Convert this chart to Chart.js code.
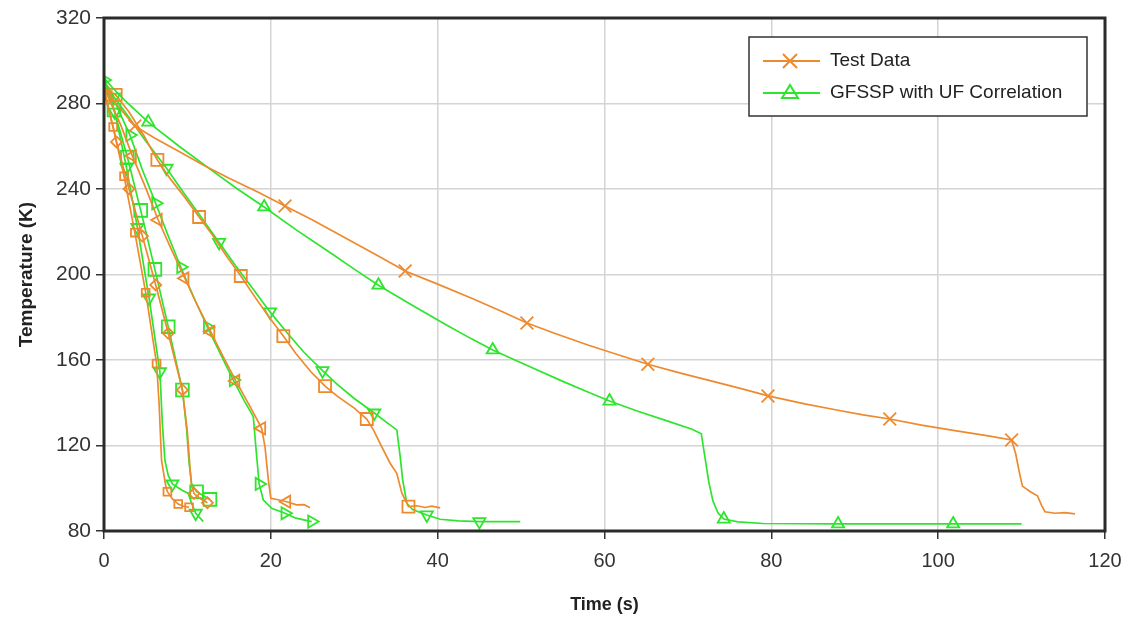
<!DOCTYPE html>
<html>
<head>
<meta charset="utf-8">
<script src="https://cdn.jsdelivr.net/npm/chart.js@4.4.1/dist/chart.umd.min.js"></script>
<style>
html, body { margin: 0; padding: 0; background: #fff; }
canvas { display: block; }
</style>
</head>
<body>
<canvas id="chart" width="1127" height="619"></canvas>
<script>
// time (s), temperature (K)
const test1 = [[0,288],[1.2,281],[2.5,275],[3.7,269.5],[6,264],[9,257.5],[12,251],[15,245],[18.5,238.5],[21.7,232],[25,225.5],[29,217],[32.5,209.5],[36.1,201.6],[40,195.5],[44,189],[47.5,183],[50.7,177.3],[54,172.5],[58,167],[62,162],[65.2,158],[69,154],[73,150],[76.5,146.5],[79.6,143.2],[84,139.5],[88,136.5],[91,134.3],[94.2,132.4],[98,129.5],[102,127],[106,124.5],[108.8,122.6],[109.3,116],[109.7,108],[110.1,101],[111,98.5],[111.9,96.5],[112.4,92],[112.8,89],[114,88.3],[115.2,88.6],[116.4,88]];
const marks1 = [3.7,21.7,36.1,50.7,65.2,79.6,94.2,108.8];

const gf1 = [[0,292],[1,287.5],[2.5,281.5],[5.3,271.3],[9,260],[13,248.5],[16,240],[19.2,231.6],[23,221],[27,210.5],[30,202.5],[32.9,195],[37,185.5],[41,176.5],[44,170],[46.6,164.7],[51,157],[55,150],[58,145],[60.6,140.8],[64,136],[67.5,131.5],[70.5,127.6],[71.6,125.5],[72.1,113],[72.5,103],[73,94],[73.6,88.5],[74.3,85.6],[76,84.3],[79,83.5],[88,83.3],[101.8,83.3],[110,83.3]];
const marksG1 = [5.3,19.2,32.9,46.6,60.6,74.3,88,101.8];

const test2 = [[0,287],[1.4,284],[3,276],[4.7,265.5],[6.4,253.6],[8,244.5],[9.7,236],[11.4,226.9],[13,218.5],[14.7,208.5],[16.4,199.3],[18,190],[19.8,180],[21.5,171.2],[23,163],[24.8,154.5],[26.5,147.8],[28,143],[30,137.5],[31.5,132.4],[32.3,127.3],[33.3,119.4],[34.3,111.7],[35.1,107],[35.7,97.8],[36.5,91.4],[37.5,91.8],[38.5,91],[39.3,91.6],[40.3,90.8]];
const marks2 = [1.4,6.4,11.4,16.4,21.5,26.5,31.5,36.5];

const gf2 = [[0,290],[1.2,283],[3,273.5],[5,262.5],[7.5,249.7],[9.5,238.5],[11.7,226.5],[13.8,215],[15.8,204],[18,192.5],[19.9,182.5],[22,172.5],[24,163.5],[26.2,155],[28,148.5],[30,142],[32.4,135.2],[34,130.5],[35.1,127.3],[35.5,115],[35.8,104],[36.3,93],[37,90],[38.7,87.5],[40.3,85.5],[42.5,84.7],[45,84.4],[49.9,84.4]];
const marksG2 = [1.2,7.5,13.8,19.9,26.2,32.4,38.7,45];

const test3 = [[0,287],[0.5,283],[2,270],[3.4,255.5],[5,240.5],[6.5,225.5],[8.1,211.5],[9.7,198.2],[11.2,185.5],[12.8,173.2],[14.3,161.5],[15.8,150.2],[17.4,139],[18.9,128],[19.3,119.4],[19.7,104],[20,95.3],[21,94.5],[21.9,93.7],[23.1,92.2],[24,92.3],[24.7,90.9]];
const marks3 = [0.5,3.4,6.5,9.7,12.8,15.8,18.9,21.9];

const gf3 = [[0,291],[1.5,279],[3.1,265.3],[4.6,249],[6.2,233.3],[7.7,218],[9.2,203.5],[10.8,189],[12.4,175.4],[14,162.5],[15.5,150.6],[16.8,141],[17.9,133.5],[18.2,119.4],[18.6,102],[19.1,94.5],[20.1,90.6],[21.7,88.3],[23,86],[24.9,84.4]];
const marksG3 = [0,3.1,6.2,9.2,12.4,15.5,18.6,21.7,24.9];

const test4 = [[0,287],[1.5,262],[3,240],[4.6,218],[6.2,195.1],[7.7,172.5],[9.4,146],[10,126],[10.3,110],[10.5,101],[10.8,97.5],[11.6,95],[12.4,93.2]];
const marks4 = [0,1.5,3,4.6,6.2,7.7,9.4,10.8,12.4];

const gf4 = [[0,291],[1.2,277],[2.8,255],[4.4,230],[6.1,202.4],[7.7,175.6],[9.4,146],[9.9,128],[10.2,112],[10.5,102],[11.1,98.4],[11.9,96.5],[12.7,94.8]];
const marksG4 = [1.2,2.8,4.4,6.1,7.7,9.4,11.1,12.7];

const test5 = [[0,285],[1.1,269],[2.4,246],[3.7,219.6],[5,191.5],[6.3,158.4],[6.6,140],[6.9,113],[7.4,101],[7.6,98.4],[8.2,95],[8.9,92.6],[9.6,91.5],[10.2,91.1]];
const marks5 = [1.1,2.4,3.7,5,6.3,7.6,8.9,10.2];

const gf5 = [[0,292],[1.3,276],[2.7,250],[4,222],[5.4,189],[6.7,154.5],[7,130],[7.3,113],[7.7,106],[8.2,102],[9.3,99.2],[10.1,97.6],[10.5,93],[11,88.3],[11.9,84.4]];
const marksG5 = [1.3,2.7,4,5.4,6.7,8.2,11];

const legendLabels = ['Test Data', 'GFSSP with UF Correlation'];
const xTitle = 'Time (s)';
const yTitle = 'Temperature (K)';

const ORANGE = '#EE8A2E';
const GREEN = '#2DE52D';
const FONT = "'Liberation Sans', Arial, sans-serif";

function makeSet(pts, marks, color, style, r, rot) {
  return {
    data: pts.map(p => ({ x: p[0], y: p[1] })),
    borderColor: color,
    borderWidth: 1.7,
    backgroundColor: 'rgba(0,0,0,0)',
    pointBackgroundColor: 'rgba(0,0,0,0)',
    pointBorderColor: color,
    pointBorderWidth: 1.8,
    pointStyle: style,
    pointRotation: rot,
    pointRadius: ctx => (ctx.raw && marks.includes(ctx.raw.x)) ? r : 0,
    pointHoverRadius: 0,
    tension: 0
  };
}

const datasets = [
  makeSet(test1, marks1, ORANGE, 'crossRot', 9, 0),
  makeSet(gf1, marksG1, GREEN, 'triangle', 7, 0),
  makeSet(test2, marks2, ORANGE, 'rect', 8.5, 0),
  makeSet(gf2, marksG2, GREEN, 'triangle', 7, 180),
  makeSet(test3, marks3, ORANGE, 'triangle', 7, 270),
  makeSet(gf3, marksG3, GREEN, 'triangle', 7, 90),
  makeSet(test4, marks4, ORANGE, 'rectRot', 5.5, 0),
  makeSet(gf4, marksG4, GREEN, 'rect', 9, 0),
  makeSet(test5, marks5, ORANGE, 'rect', 5.5, 0),
  makeSet(gf5, marksG5, GREEN, 'triangle', 7, 180)
];

// dark frame round the plot area
const frame = {
  id: 'frame',
  afterDatasetsDraw(chart) {
    const { ctx, chartArea: a } = chart;
    ctx.save();
    ctx.strokeStyle = '#2b2b2b';
    ctx.lineWidth = 3;
    ctx.strokeRect(a.left, a.top, a.right - a.left, a.bottom - a.top);
    ctx.restore();
  }
};

// boxed legend inside the plot, top right
const legendBox = {
  id: 'legendBox',
  afterDraw(chart) {
    const { ctx, chartArea: a } = chart;
    const x0 = a.right - 356, y0 = a.top + 19, w = 338, h = 79;
    ctx.save();
    ctx.fillStyle = '#fff';
    ctx.fillRect(x0, y0, w, h);
    ctx.strokeStyle = '#333';
    ctx.lineWidth = 1.5;
    ctx.strokeRect(x0, y0, w, h);
    const rows = [y0 + 24, y0 + 56];
    const colors = [ORANGE, GREEN];
    rows.forEach((y, i) => {
      ctx.strokeStyle = colors[i];
      ctx.lineWidth = 2;
      ctx.beginPath();
      ctx.moveTo(x0 + 14, y);
      ctx.lineTo(x0 + 71, y);
      ctx.stroke();
      const cx = x0 + 41;
      ctx.beginPath();
      if (i === 0) {
        ctx.moveTo(cx - 7, y - 7); ctx.lineTo(cx + 7, y + 7);
        ctx.moveTo(cx + 7, y - 7); ctx.lineTo(cx - 7, y + 7);
      } else {
        ctx.moveTo(cx, y - 8); ctx.lineTo(cx + 8, y + 5); ctx.lineTo(cx - 8, y + 5); ctx.closePath();
      }
      ctx.stroke();
      ctx.fillStyle = '#222';
      ctx.font = '19px ' + FONT;
      ctx.textBaseline = 'middle';
      ctx.textAlign = 'left';
      ctx.fillText(legendLabels[i], x0 + 81, y);
    });
    ctx.restore();
  }
};

new Chart(document.getElementById('chart'), {
  type: 'line',
  data: { datasets: datasets },
  options: {
    responsive: false,
    animation: false,
    devicePixelRatio: 1,
    layout: { padding: { top: 18, right: 22, left: 0, bottom: 0 } },
    plugins: { legend: { display: false }, tooltip: { enabled: false } },
    scales: {
      x: {
        type: 'linear',
        min: 0, max: 120,
        ticks: { stepSize: 20, color: '#333', font: { family: FONT, size: 20 }, padding: 10, maxRotation: 0 },
        grid: { color: '#d4d4d4', lineWidth: 1.5, tickColor: '#333', tickLength: 8, tickWidth: 1.5 },
        border: { display: false },
        title: { display: true, text: xTitle, color: '#222', font: { family: FONT, size: 18, weight: 'bold' }, padding: { top: 0, bottom: 3 } },
        afterFit: s => { s.height = 88; s.paddingLeft = 0; s.paddingRight = 0; }
      },
      y: {
        type: 'linear',
        min: 80, max: 320,
        ticks: { stepSize: 40, color: '#333', font: { family: FONT, size: 21 }, padding: 5 },
        grid: { color: '#d4d4d4', lineWidth: 1.5, tickColor: '#333', tickLength: 8, tickWidth: 1.5 },
        border: { display: false },
        title: { display: true, text: yTitle, color: '#222', font: { family: FONT, size: 19, weight: 'bold' }, padding: { top: 15, bottom: 0 } },
        afterFit: s => { s.width = 104; }
      }
    }
  },
  plugins: [frame, legendBox]
});
</script>
</body>
</html>
